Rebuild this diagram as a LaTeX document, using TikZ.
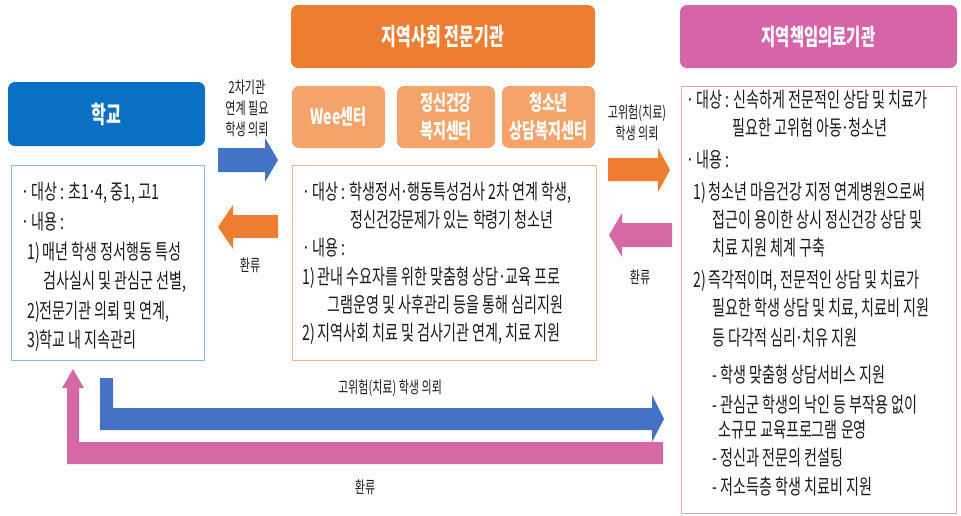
\documentclass[tikz,border=0pt]{standalone}
\usepackage{fontspec}
\setmainfont{Noto Sans CJK KR}[FakeStretch=0.67]
\definecolor{schoolblue}{HTML}{0A70C4}
\definecolor{arrowblue}{HTML}{4472C4}
\definecolor{orangeA}{HTML}{EE7D31}
\definecolor{orangeL}{HTML}{F4A46A}
\definecolor{pinkA}{HTML}{D565A8}
\definecolor{pinkB}{HTML}{D668A6}
\definecolor{bblue}{HTML}{8CB8DC}
\definecolor{borange}{HTML}{F2B68A}
\definecolor{bpink}{HTML}{D9A9C0}
\definecolor{txt}{HTML}{1A1A1A}
\newcommand\md{\makebox[0.3em]{·}}
\begin{document}
\begin{tikzpicture}[x=1pt,y=-1pt,
  hdr/.style={rounded corners=7pt, inner sep=0pt, text=white, align=center,
              font=\bfseries\fontsize{24}{28}\selectfont},
  subhdr/.style={rounded corners=7pt, inner sep=0pt, text=white, align=center, fill=orangeL,
              font=\bfseries\fontsize{21}{28}\selectfont, minimum height=62pt},
  bodybox/.style={draw, line width=0.9pt, inner sep=0pt},
  ln/.style={anchor=west, inner sep=0pt, text height=16pt, text depth=1pt,
             font=\fontsize{21}{24}\selectfont, text=txt},
  lbl/.style={inner sep=0pt, align=center, font=\fontsize{16.5}{21}\selectfont, text=txt},
]
\useasboundingbox (0,0) rectangle (961,515);

% ---------- headers ----------
\node[hdr, fill=schoolblue, minimum width=197pt, minimum height=64pt] (school) at (106.5,114) {학교};
\node[hdr, fill=orangeA, minimum width=304pt, minimum height=63pt] (comm) at (443,36.5) {지역사회 전문기관};
\node[subhdr, minimum width=93pt] (wee) at (338.5,117) {Wee센터};
\node[subhdr, minimum width=98pt] (mental) at (446,117) {정신건강\\복지센터};
\node[subhdr, minimum width=93pt] (youth) at (548.5,117) {청소년\\상담복지센터};
\node[hdr, fill=pinkA, minimum width=277pt, minimum height=63pt, font=\bfseries\fontsize{23}{28}\selectfont] (hosp) at (818.5,36.5) {지역책임의료기관};

% ---------- body boxes ----------
\node[bodybox, draw=bblue, minimum width=193pt, minimum height=195pt] (schoolbody) at (107.5,262.5) {};
\node[bodybox, draw=borange, minimum width=304pt, minimum height=195pt] (commbody) at (444,262.5) {};
\node[bodybox, draw=bpink, minimum width=275pt, minimum height=427pt] (hospbody) at (818.5,299.5) {};

% school text
\node[ln] (s1) at (22,192) {\md{} 대상 : 초1\md 4, 중1, 고1};
\node[ln] (s2) at (22,222) {\md{} 내용 :};
\node[ln] (s3) at (27,252) {1) 매년 학생 정서행동 특성};
\node[ln] (s4) at (43,281) {검사실시 및 관심군 선별,};
\node[ln] (s5) at (27,311) {2)전문기관 의뢰 및 연계,};
\node[ln] (s6) at (27,340) {3)학교 내 지속관리};

% community text
\node[ln] (c1) at (303,192) {\md{} 대상 : 학생정서\md 행동특성검사 2차 연계 학생,};
\node[ln] (c2) at (350,220) {정신건강문제가 있는 학령기 청소년};
\node[ln] (c3) at (303,248) {\md{} 내용 :};
\node[ln] (c4) at (302,277) {1) 관내 수요자를 위한 맞춤형 상담\md 교육 프로};
\node[ln] (c5) at (327,305) {그램운영 및 사후관리 등을 통해 심리지원};
\node[ln] (c6) at (302,333) {2) 지역사회 치료 및 검사기관 연계, 치료 지원};

% hospital text
\node[ln] (h1) at (687,100) {\md{} 대상 : 신속하게 전문적인 상담 및 치료가};
\node[ln] (h2) at (732,128) {필요한 고위험 아동\md 청소년};
\node[ln] (h3) at (687,160) {\md{} 내용 :};
\node[ln] (h4) at (693,192) {1) 청소년 마음건강 지정 연계병원으로써};
\node[ln] (h5) at (712,220) {접근이 용이한 상시 정신건강 상담 및};
\node[ln] (h6) at (712,248) {치료 지원 체계 구축};
\node[ln] (h7) at (693,280) {2) 즉각적이며, 전문적인 상담 및 치료가};
\node[ln] (h8) at (712,308) {필요한 학생 상담 및 치료, 치료비 지원};
\node[ln] (h9) at (712,338) {등 다각적 심리\md 치유 지원};
\node[ln] (h10) at (712,375) {- 학생 맞춤형 상담서비스 지원};
\node[ln] (h11) at (712,405) {- 관심군 학생의 낙인 등 부작용 없이};
\node[ln] (h12) at (718,430) {소규모 교육프로그램 운영};
\node[ln] (h13) at (712,458) {- 정신과 전문의 컨설팅};
\node[ln] (h14) at (712,487) {- 저소득층 학생 치료비 지원};

% ---------- block arrows ----------
% school -> community
\fill[arrowblue] (218,148) -- (265,148) -- (265,138) -- (278,160) -- (265,182) -- (265,172) -- (218,172) -- cycle;
\node[lbl] (l1) at (247,108) {2차기관\\연계 필요\\학생 의뢰};
% community -> school
\fill[orangeA] (278,215) -- (233,215) -- (233,205) -- (218,227) -- (233,249) -- (233,238) -- (278,238) -- cycle;
\node[lbl] (l2) at (250,265) {환류};
% community -> hospital
\fill[orangeA] (608,158) -- (658,158) -- (658,148) -- (670,170) -- (658,192) -- (658,181) -- (608,181) -- cycle;
\node[lbl] (l3) at (637,122.5) {고위험(치료)\\학생 의뢰};
% hospital -> community
\fill[pinkB] (672,223) -- (622,223) -- (622,213) -- (609,235) -- (622,257) -- (622,247) -- (672,247) -- cycle;
\node[lbl] (l4) at (640,277) {환류};

% bottom: school -> hospital
\fill[arrowblue] (100,378) -- (113,378) -- (113,408) -- (652,408) -- (652,395) -- (664,419) -- (652,442) -- (652,430) -- (100,430) -- cycle;
\node[lbl] (l5) at (390,388) {고위험(치료) 학생 의뢰};
% bottom: hospital -> school
\fill[pinkB] (663,464) -- (67,464) -- (67,388) -- (62,388) -- (73,369) -- (84,388) -- (79,388) -- (79,442) -- (663,442) -- cycle;
\node[lbl] (l6) at (365,487) {환류};
\end{tikzpicture}
\end{document}
